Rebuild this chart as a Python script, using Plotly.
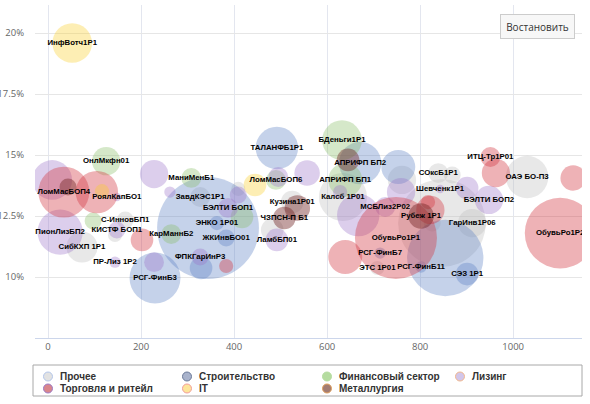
import plotly.graph_objects as go

# ---------------- data ----------------
categories = ["Прочее", "Строительство", "Финансовый сектор", "Лизинг",
              "Торговля и ритейл", "IT", "Металлургия"]

# Прочее
other_names = ["СибКХП 1Р1", "С-ИнновБП1", "", "ЗавдКЭС1Р1", "", "", "Кузина1Р01", "Калсб 1Р01",
               "ЭТС 1Р01", "", "СОксБ1Р1", "", "", "ГарИнв1Р06", "", "ОАЭ БО-П3"]
other_x = [73, 166, 144, 327, 409, 482, 525, 634, 708, 761, 839, 869, 847, 912, 826, 1030]
other_y = [11.23, 12.34, 11.72, 13.28, 13.61, 11.93, 13.07, 13.28, 10.37, 13.98, 14.26, 14.18,
           12.21, 12.21, 12.21, 14.10]
other_vol = [121, 36, 25, 49, 25, 64, 64, 289, 25, 100, 49, 36, 961, 100, 36, 225]

# Строительство
build_names = ["", "ЭНКО 1Р01", "ЖКИнвБО01", "", "РСГ-ФинБ3", "ТАЛАНФБ1Р1", "АПРИФП БП2", "",
               "", "СЭЗ 1Р1", "РСГ-ФинБ11", "РСГ-ФинБ7"]
build_x = [344, 363, 383, 329, 230, 492, 671, 753, 854, 901, 802, 714]
build_y = [12.01, 12.21, 11.60, 10.37, 9.96, 15.29, 14.67, 14.51, 10.78, 10.12, 10.41, 10.98]
build_vol = [1296, 25, 36, 64, 324, 225, 225, 144, 729, 64, 16, 16]

# Финансовый сектор
fin_names = ["ОнлМкфн01", "", "МаниМенБ1", "КарМаннБ2", "", "ЛомМасБОП6", "БДеньги1Р1", "АПРИФП БП1"]
fin_x = [125, 97, 308, 265, 417, 490, 632, 639]
fin_y = [14.75, 12.30, 14.06, 11.76, 12.46, 13.98, 15.61, 13.98]
fin_vol = [100, 36, 49, 49, 64, 49, 196, 144]

# Лизинг
lease_names = ["", "ПионЛизБП2", "РоялКапБО1", "КИСТФ БОП1", "ПР-Лиз 1Р2", "", "", "",
               "ФПКГарИнР3", "БЭЛТИ БОП1", "", "", "", "ЛамбБП01", "", "МСБЛиз2Р02", "", "",
               "Шевченк1Р1", "", "БЭЛТИ БОП2"]
lease_x = [9, 26, 148, 148, 144, 228, 228, 262, 327, 387, 409, 495, 557, 492, 667, 725, 628, 759,
           843, 901, 948]
lease_y = [13.98, 11.84, 13.28, 11.93, 10.61, 10.61, 14.22, 13.48, 10.82, 12.83, 13.36, 14.10,
           14.26, 11.52, 12.54, 12.87, 13.48, 13.48, 13.61, 13.65, 13.16]
lease_vol = [196, 256, 9, 36, 16, 49, 100, 16, 36, 49, 36, 49, 81, 64, 225, 49, 25, 100, 9, 64, 100]

# Торговля и ритейл
trade_names = ["ЛомМасБОП4", "", "", "", "", "ОбувьРо1Р1", "", "", "ИТЦ-Тр1Р01", "", "", "ОбувьРо1Р2"]
trade_x = [34, 105, 202, 383, 639, 748, 822, 817, 951, 963, 1129, 1101]
trade_y = [13.48, 13.48, 11.52, 10.45, 10.82, 11.60, 12.75, 13.07, 14.92, 14.26, 14.06, 11.80]
trade_vol = [324, 225, 64, 25, 144, 841, 100, 25, 49, 100, 81, 625]

# IT
it_names = ["ИнфВотч1Р1", "", ""]
it_x = [52, 116, 445]
it_y = [19.59, 13.52, 13.77]
it_vol = [196, 25, 64]

# Металлургия
metal_names = ["", "", "", "ЧЗПСН-П Б1", "Рубеж 1Р1"]
metal_x = [43, 645, 536, 508, 802]
metal_y = [13.69, 14.80, 12.83, 12.42, 12.50]
metal_vol = [36, 64, 81, 64, 81]

x_ticks = [0, 200, 400, 600, 800, 1000]
y_ticks = [10, 12.5, 15, 17.5, 20]
y_tick_labels = ["10%", "12.5%", "15%", "17.5%", "20%"]

# ---------------- styles ----------------
series = [
    (other_names, other_x, other_y, other_vol),
    (build_names, build_x, build_y, build_vol),
    (fin_names, fin_x, fin_y, fin_vol),
    (lease_names, lease_x, lease_y, lease_vol),
    (trade_names, trade_x, trade_y, trade_vol),
    (it_names, it_x, it_y, it_vol),
    (metal_names, metal_x, metal_y, metal_vol),
]
bubble_colors = ["rgba(190,190,190,0.5)", "rgba(90,125,195,0.5)", "rgba(135,190,100,0.5)",
                 "rgba(155,115,200,0.5)", "rgba(210,55,65,0.55)", "rgba(250,205,40,0.5)",
                 "rgba(110,30,30,0.6)"]
legend_fill = ["#e2e2e2", "#a9b3cc", "#b5dca0", "#d2c6ea", "#d9868c", "#fde59a", "#a27c72"]
legend_line = ["#b3c6ea", "#6b7a99", "#b5dca0", "#f2b78c", "#9a7ac8", "#f29c9c", "#e2a05c"]

fig = go.Figure()
for cat, (names, xs, ys, vols), col in zip(categories, series, bubble_colors):
    fig.add_trace(go.Scatter(
        x=xs, y=ys, mode="markers", name=cat, text=names, showlegend=False,
        marker=dict(size=vols, sizemode="area", sizeref=0.25, sizemin=0,
                    color=col, line=dict(width=0)),
        hovertemplate="%{text}<br>%{x}, %{y}%<extra>" + cat + "</extra>",
    ))

# data labels on top of all bubbles
lab_x, lab_y, lab_t = [], [], []
for names, xs, ys, vols in series:
    for n, xv, yv in zip(names, xs, ys):
        if n:
            lab_x.append(xv); lab_y.append(yv); lab_t.append(n)
fig.add_trace(go.Scatter(
    x=lab_x, y=lab_y, text=lab_t, mode="text", showlegend=False, hoverinfo="skip",
    textposition="middle center",
    textfont=dict(family="Liberation Sans", size=7.8, color="#000000", weight="bold"),
))

# ---------------- layout ----------------
L, R, T, B = 35, 8, 5, 66
W, H = 590, 404
pw, ph = W - L - R, H - T - B


def px_x(px):
    return (px - L) / pw


def px_y(py):
    return (H - B - py) / ph


shapes = [dict(type="rect", xref="paper", yref="paper",
               x0=px_x(33), x1=px_x(582), y0=px_y(396), y1=px_y(365),
               line=dict(color="#a8a8a8", width=1), fillcolor="white", layer="above")]
annotations = []
col_px = [48, 187, 327, 460]
row_px = [376.5, 388.5]
for i, cat in enumerate(categories):
    c, r = i % 4, i // 4
    cx, cy = col_px[c], row_px[r]
    shapes.append(dict(type="circle", xref="paper", yref="paper",
                       x0=px_x(cx - 4.5), x1=px_x(cx + 4.5), y0=px_y(cy + 4.5), y1=px_y(cy - 4.5),
                       fillcolor=legend_fill[i], line=dict(color=legend_line[i], width=1),
                       layer="above"))
    annotations.append(dict(xref="paper", yref="paper", x=px_x(cx + 10), y=px_y(cy),
                            xanchor="left", yanchor="middle", showarrow=False, text=cat,
                            font=dict(family="Liberation Sans", size=10, color="#333333",
                                      weight="bold")))

# reset-zoom button look
annotations.append(dict(xref="paper", yref="paper", x=px_x(575), y=px_y(13.5),
                        xanchor="right", yanchor="top", showarrow=False, text="Востановить",
                        width=73, height=23, borderpad=0, align="center", valign="middle",
                        bgcolor="#f7f7f7", bordercolor="#cccccc", borderwidth=1,
                        font=dict(family="Open Sans", size=10, color="#333333")))

fig.update_layout(
    width=W, height=H, margin=dict(l=L, r=R, t=T, b=B),
    paper_bgcolor="white", plot_bgcolor="white",
    showlegend=False,
    shapes=shapes, annotations=annotations,
    xaxis=dict(range=[-28, 1148], tickvals=x_ticks, showgrid=True, gridcolor="#e3e6ef",
               zeroline=False, showline=True, linecolor="#ccd6eb", ticks="", automargin=False,
               tickfont=dict(family="Open Sans", size=9.5, color="#666666")),
    yaxis=dict(range=[7.5, 21.15], tickvals=y_ticks, ticktext=y_tick_labels, showgrid=True,
               gridcolor="#e6e6e6", zeroline=False, showline=False, ticks="", automargin=False,
               ticklabelstandoff=10,
               tickfont=dict(family="Open Sans", size=9.5, color="#666666")),
)

fig.write_html("out.html", config={"displayModeBar": False},
               post_script="document.body.style.margin='0';")
